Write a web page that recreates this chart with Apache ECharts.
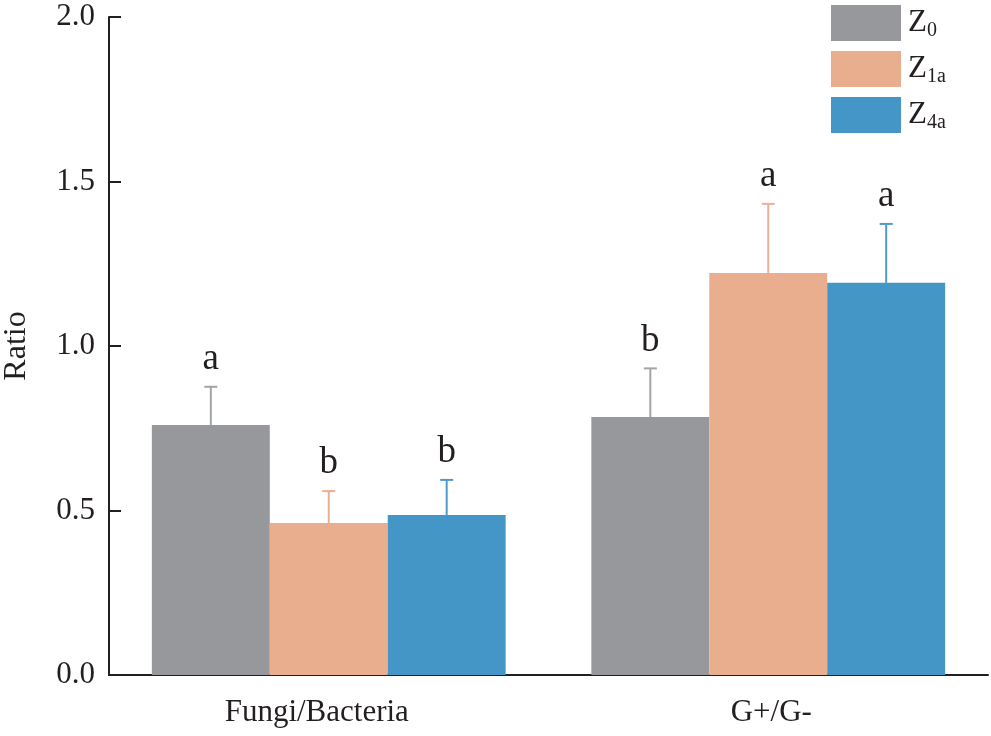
<!DOCTYPE html>
<html>
<head>
<meta charset="utf-8">
<script src="https://cdn.jsdelivr.net/npm/echarts@6/dist/echarts.min.js"></script>
<style>html,body{margin:0;padding:0;background:#fff}#c{width:991px;height:736px}</style>
</head>
<body>
<div id="c"></div>
<script>
var categories = ['Fungi/Bacteria', 'G+/G-'];
var seriesNames = ['Z0', 'Z1a', 'Z4a'];
var seriesSubs = ['0', '1a', '4a'];
var z0Values = [0.760, 0.784];
var z1aValues = [0.462, 1.222];
var z4aValues = [0.486, 1.192];
var z0Errors = [0.116, 0.148];
var z1aErrors = [0.097, 0.210];
var z4aErrors = [0.107, 0.179];
var z0Letters = ['a', 'b'];
var z1aLetters = ['b', 'a'];
var z4aLetters = ['b', 'a'];
var yTicks = [0, 0.5, 1.0, 1.5, 2.0];

var barColors = ['#97989b', '#e8ae8e', '#4496c6'];
var errColors = ['#a3a4a7', '#e9b193', '#4e9bca'];
var FONT = 'Liberation Serif';
var gapPct = 0.195;

var values = [z0Values, z1aValues, z4aValues];
var errors = [z0Errors, z1aErrors, z4aErrors];
var letters = [z0Letters, z1aLetters, z4aLetters];

var chart = echarts.init(document.getElementById('c'));

var series = [];
seriesNames.forEach(function (name, si) {
  series.push({
    name: name,
    type: 'bar',
    data: values[si],
    barGap: '0%',
    barCategoryGap: (gapPct * 100) + '%',
    itemStyle: { color: barColors[si] },
    z: 2
  });
});
seriesNames.forEach(function (name, si) {
  var data = categories.map(function (c, ci) {
    return [ci, values[si][ci], values[si][ci] + errors[si][ci], letters[si][ci]];
  });
  series.push({
    type: 'custom',
    data: data,
    z: 3,
    encode: { x: 0, y: [1, 2] },
    renderItem: function (params, api) {
      var ci = api.value(0);
      var base = api.coord([ci, api.value(1)]);
      var top = api.coord([ci, api.value(2)]);
      var band = api.size([1, 0])[0];
      var bw = band * (1 - gapPct) / 3;
      var x = base[0] + (si - 1) * bw;
      var cap = 6.5;
      var col = errColors[si];
      return {
        type: 'group',
        children: [
          { type: 'line', shape: { x1: x, y1: base[1], x2: x, y2: top[1] }, style: { stroke: col, lineWidth: 2 } },
          { type: 'line', shape: { x1: x - cap, y1: top[1], x2: x + cap, y2: top[1] }, style: { stroke: col, lineWidth: 2 } },
          { type: 'text', x: x, y: top[1] - 9, style: { text: data[params.dataIndex][3], fontFamily: FONT, fontSize: 37, fill: '#231f20', align: 'center', verticalAlign: 'bottom' } }
        ]
      };
    }
  });
});

chart.setOption({
  animation: false,
  backgroundColor: '#fff',
  grid: { left: 109, right: 3, top: 17, bottom: 61, containLabel: false, outerBoundsMode: 'none' },
  legend: {
    orient: 'vertical',
    left: 826,
    top: 0,
    itemWidth: 70,
    itemHeight: 36,
    itemGap: 10,
    icon: 'rect',
    data: seriesNames,
    formatter: function (n) {
      var i = seriesNames.indexOf(n);
      return '{z|Z}{s|' + seriesSubs[i] + '}';
    },
    textStyle: {
      padding: [0, 0, 0, 2],
      rich: {
        z: { fontFamily: FONT, fontSize: 31, color: '#231f20', lineHeight: 36 },
        s: { fontFamily: FONT, fontSize: 20, color: '#231f20', padding: [16, 0, 0, 0] }
      }
    }
  },
  xAxis: {
    type: 'category',
    data: categories,
    axisLine: { lineStyle: { color: '#231f20', width: 2 } },
    axisTick: { inside: true, length: 6, lineStyle: { color: '#231f20', width: 1.5 } },
    axisLabel: {
      fontFamily: FONT, fontSize: 31, color: '#231f20', margin: 22,
      formatter: function (v, i) { return i === 0 ? '{f|' + v + '}' : '{g|' + v + '}'; },
      rich: {
        f: { fontFamily: FONT, fontSize: 31, color: '#231f20', padding: [0, 24, 0, 0] },
        g: { fontFamily: FONT, fontSize: 31, color: '#231f20', padding: [0, 0, 0, 6] }
      }
    }
  },
  yAxis: {
    type: 'value',
    min: 0,
    max: 2,
    interval: 0.5,
    name: 'Ratio',
    nameLocation: 'middle',
    nameGap: 76,
    nameTextStyle: { fontFamily: FONT, fontSize: 32, color: '#231f20' },
    splitLine: { show: false },
    axisLine: { show: true, lineStyle: { color: '#231f20', width: 2 } },
    axisTick: { show: true, inside: true, length: 12, lineStyle: { color: '#231f20', width: 2 } },
    axisLabel: {
      fontFamily: FONT, fontSize: 31, color: '#231f20', margin: 14,
      formatter: function (v) { return yTicks.indexOf(v) >= 0 ? v.toFixed(1) : ''; }
    }
  },
  series: series
});
</script>
</body>
</html>
